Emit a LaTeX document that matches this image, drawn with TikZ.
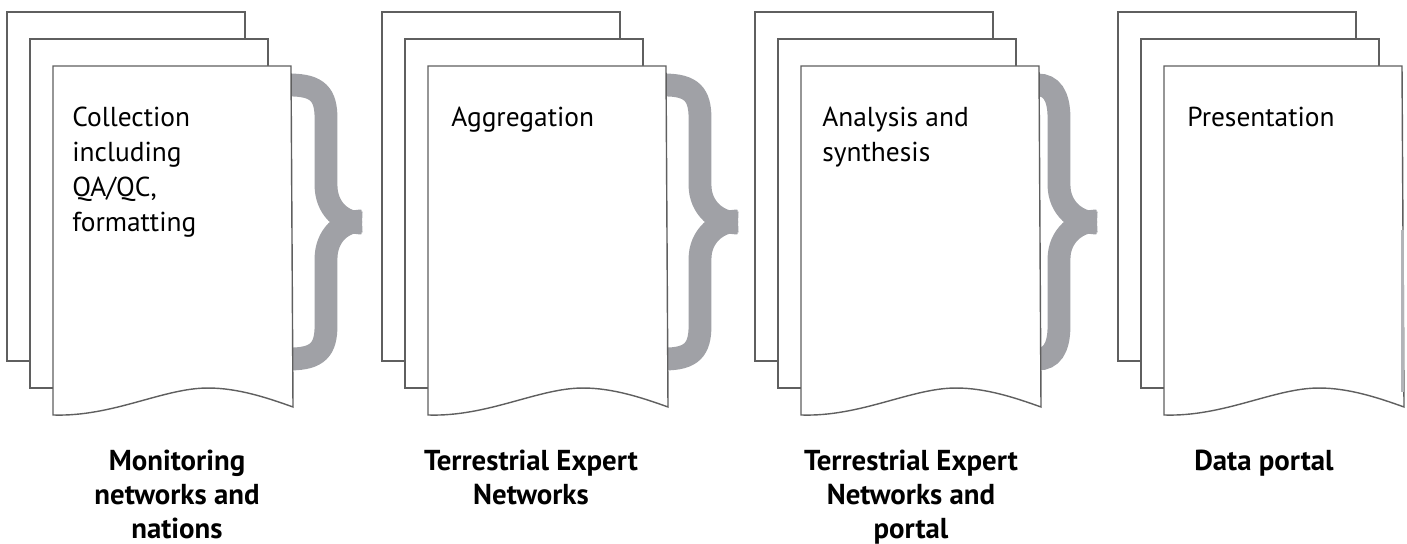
\documentclass[tikz,border=0pt]{standalone}
\usepackage{fontspec}
\setmainfont{PT Sans}
\definecolor{bracegray}{RGB}{160,161,166}
\definecolor{edgegray}{RGB}{95,95,95}
\begin{document}
\begin{tikzpicture}[x=0.02cm,y=-0.02cm]

\tikzset{page/.style={fill=white,draw=edgegray,line width=0.8pt,line join=miter},
%thick grey bracket joining one stack to the next
bracket/.style={draw=bracegray,line width=13pt,line cap=butt},
pagetext/.style={anchor=north west,inner sep=0pt,align=left,font=\fontsize{15.6pt}{19.9pt}\selectfont},
steplabel/.style={anchor=north,inner sep=0pt,align=center,font=\fontsize{16.4pt}{19.3pt}\selectfont\bfseries}}

\useasboundingbox (0,0) rectangle (1407,544);

% brackets go first, the front pages hide their left ends
\foreach \xa/\xv/\xt in {291/326/362, 666/700/738, 1039/1059/1097}{
\draw [bracket] (\xa-6,85) -- (\xa-1,85) .. controls ({\xv-8},85) and (\xv,95) .. (\xv,118) -- (\xv,185) .. controls (\xv,208) and ({\xt-20},223) .. (\xt,223);
\draw [bracket] (\xa-6,359) -- (\xa-1,359) .. controls ({\xv-8},359) and (\xv,349) .. (\xv,326) -- (\xv,259) .. controls (\xv,236) and ({\xt-20},221) .. (\xt,221);
}

% three pages per stack
\foreach \bx in {7,382,755,1118}{
\draw [page] (\bx,12) rectangle ++(238,349);
\draw [page] (\bx+23,39) rectangle ++(238,349);
\draw [page] (\bx+46,66) -- (\bx+284,66) -- (\bx+286,407) .. controls (\bx+261,398) and (\bx+231,388) .. (\bx+201,388) .. controls (\bx+156,388) and (\bx+106,417) .. (\bx+46,415) -- cycle;
}

% cut-off grey at the right edge
\fill [bracegray!80] (1401,230) rectangle (1404,392);

\node [pagetext] (collect) at (72,107) {Collection\\including\\QA/QC,\\formatting};
\node [pagetext] (aggreg) at (451,107) {Aggregation};
\node [pagetext] (analys) at (822,107) {Analysis and\\synthesis};
\node [pagetext] (present) at (1187,107) {Presentation};

\node [steplabel] (monitor) at (177,450) {Monitoring\\networks and\\nations};
\node [steplabel] (expert) at (531,450) {Terrestrial Expert\\Networks};
\node [steplabel] (expertp) at (911,450) {Terrestrial Expert\\Networks and\\portal};
\node [steplabel] (portal) at (1264,450) {Data portal};

\end{tikzpicture}
\end{document}
